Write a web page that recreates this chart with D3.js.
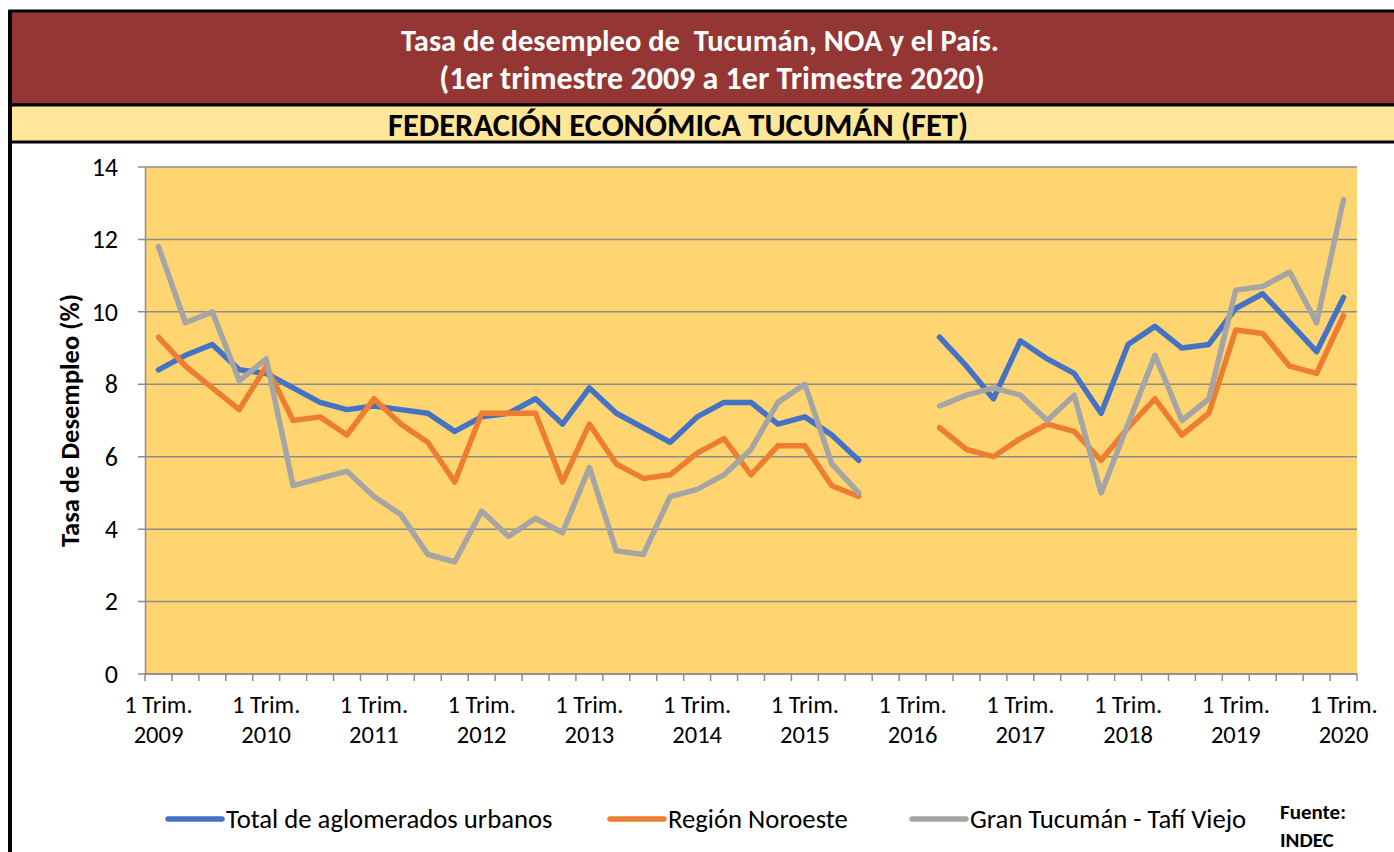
<!DOCTYPE html>
<html>
<head>
<meta charset="utf-8">
<script src="https://cdn.jsdelivr.net/npm/d3@7"></script>
<style>
  body { margin: 0; background: #fff; }
  svg { display: block; font-family: Calibri, Carlito, Lato, "Open Sans", sans-serif; }
</style>
</head>
<body>
<div id="chart"></div>
<script>
// trimestres 2009 T1 .. 2020 T1 (45)
const years = d3.range(2009, 2021);
const quarters = [];
years.forEach(y => [1, 2, 3, 4].forEach(q => { if (y < 2020 || q === 1) quarters.push(y + "-" + q); }));

// null = sin dato (4T 2015 y 1T 2016)
const total = [8.4, 8.8, 9.1, 8.4, 8.3, 7.9, 7.5, 7.3, 7.4, 7.3, 7.2, 6.7,
  7.1, 7.2, 7.6, 6.9, 7.9, 7.2, 6.8, 6.4, 7.1, 7.5, 7.5, 6.9,
  7.1, 6.6, 5.9, null, null, 9.3, 8.5, 7.6, 9.2, 8.7, 8.3, 7.2,
  9.1, 9.6, 9.0, 9.1, 10.1, 10.5, 9.7, 8.9, 10.4];
const noroeste = [9.3, 8.5, 7.9, 7.3, 8.5, 7.0, 7.1, 6.6, 7.6, 6.9, 6.4, 5.3,
  7.2, 7.2, 7.2, 5.3, 6.9, 5.8, 5.4, 5.5, 6.1, 6.5, 5.5, 6.3,
  6.3, 5.2, 4.9, null, null, 6.8, 6.2, 6.0, 6.5, 6.9, 6.7, 5.9,
  6.8, 7.6, 6.6, 7.2, 9.5, 9.4, 8.5, 8.3, 9.9];
const tucuman = [11.8, 9.7, 10.0, 8.1, 8.7, 5.2, 5.4, 5.6, 4.9, 4.4, 3.3, 3.1,
  4.5, 3.8, 4.3, 3.9, 5.7, 3.4, 3.3, 4.9, 5.1, 5.5, 6.2, 7.5,
  8.0, 5.8, 5.0, null, null, 7.4, 7.7, 7.9, 7.7, 7.0, 7.7, 5.0,
  6.9, 8.8, 7.0, 7.6, 10.6, 10.7, 11.1, 9.7, 13.1];

const seriesNames = ["Total de aglomerados urbanos", "Región Noroeste", "Gran Tucumán - Tafí Viejo"];
const seriesColors = ["#4472C4", "#ED7D31", "#A5A5A5"];
const yTicks = [0, 2, 4, 6, 8, 10, 12, 14];

const W = 1394, H = 852;
const m = { left: 145, right: 1357, top: 167, bottom: 674 };

const svg = d3.select("#chart").append("svg").attr("width", W).attr("height", H);

// encabezado
svg.append("rect").attr("x", 10).attr("y", 11).attr("width", W).attr("height", 94)
  .attr("fill", "#943634").attr("stroke", "#000").attr("stroke-width", 3);
svg.append("rect").attr("x", 10).attr("y", 105).attr("width", W).attr("height", 37)
  .attr("fill", "#FFE699").attr("stroke", "#000").attr("stroke-width", 3);
svg.append("line").attr("x1", 10).attr("x2", 10).attr("y1", 10).attr("y2", H)
  .attr("stroke", "#000").attr("stroke-width", 4);

svg.append("text").attr("x", 700).attr("y", 51).attr("text-anchor", "middle")
  .attr("fill", "#fff").attr("font-weight", "bold").attr("font-size", 30.5)
  .attr("xml:space", "preserve")
  .text("Tasa de desempleo de  Tucumán, NOA y el País.");
svg.append("text").attr("x", 712).attr("y", 89).attr("text-anchor", "middle")
  .attr("fill", "#fff").attr("font-weight", "bold").attr("font-size", 32)
  .text("(1er trimestre 2009 a 1er Trimestre 2020)");
svg.append("text").attr("x", 678).attr("y", 136).attr("text-anchor", "middle")
  .attr("fill", "#000").attr("font-weight", "bold").attr("font-size", 32.5)
  .text("FEDERACIÓN ECONÓMICA TUCUMÁN (FET)");

// escalas
const x = d3.scaleBand().domain(quarters).range([m.left, m.right]);
const y = d3.scaleLinear().domain([0, 14]).range([m.bottom, m.top]);

svg.append("rect").attr("x", m.left).attr("y", m.top)
  .attr("width", m.right - m.left).attr("height", m.bottom - m.top)
  .attr("fill", "#FFD572");

// grilla
svg.append("g").selectAll("line").data(yTicks).join("line")
  .attr("x1", m.left - 7).attr("x2", m.right)
  .attr("y1", d => y(d)).attr("y2", d => y(d))
  .attr("stroke", "#8c8c8c").attr("stroke-width", 1.5);

// eje Y
const yAxis = svg.append("g").attr("transform", `translate(${m.left},0)`)
  .call(d3.axisLeft(y).tickValues(yTicks).tickSize(0).tickPadding(27));
yAxis.select(".domain").attr("stroke", "#8c8c8c").attr("stroke-width", 1.5);
yAxis.selectAll("text").attr("font-size", 26).attr("fill", "#000")
  .attr("font-family", "Calibri, Carlito, Lato, sans-serif");

svg.append("text")
  .attr("transform", `translate(79,${(m.top + m.bottom) / 2}) rotate(-90)`)
  .attr("text-anchor", "middle").attr("font-weight", "bold").attr("font-size", 26.5)
  .text("Tasa de Desempleo (%)");

// eje X
const bounds = quarters.map(q => x(q)).concat([m.right]);
svg.append("line").attr("x1", m.left).attr("x2", m.right)
  .attr("y1", m.bottom).attr("y2", m.bottom)
  .attr("stroke", "#8c8c8c").attr("stroke-width", 1.5);
svg.append("g").selectAll("line").data(bounds).join("line")
  .attr("x1", d => d).attr("x2", d => d)
  .attr("y1", m.bottom).attr("y2", m.bottom + 7)
  .attr("stroke", "#8c8c8c").attr("stroke-width", 1.5);

const labelQ = quarters.filter(q => q.endsWith("-1"));
const xl = svg.append("g").selectAll("text").data(labelQ).join("text")
  .attr("text-anchor", "middle").attr("font-size", 24.5).attr("fill", "#000");
xl.append("tspan").attr("x", d => x(d) + x.bandwidth() / 2).attr("y", 713).text("1 Trim.");
xl.append("tspan").attr("x", d => x(d) + x.bandwidth() / 2).attr("y", 743).text(d => d.split("-")[0]);

// series
const allSeries = [total, noroeste, tucuman];
const line = d3.line()
  .defined(d => d != null)
  .x((d, i) => x(quarters[i]) + x.bandwidth() / 2)
  .y(d => y(d));

svg.append("g").selectAll("path").data(allSeries).join("path")
  .attr("d", line)
  .attr("fill", "none")
  .attr("stroke", (d, i) => seriesColors[i])
  .attr("stroke-width", 5.5)
  .attr("stroke-linejoin", "round")
  .attr("stroke-linecap", "round");

// leyenda
const legX = [168, 610, 912];
const leg = svg.append("g").selectAll("g").data(seriesNames).join("g")
  .attr("transform", (d, i) => `translate(${legX[i]},819)`);
leg.append("line").attr("x1", 0).attr("x2", 54)
  .attr("stroke", (d, i) => seriesColors[i]).attr("stroke-width", 5.5)
  .attr("stroke-linecap", "round");
leg.append("text").attr("x", 58).attr("y", 9).attr("font-size", 26.7)
  .attr("fill", "#000").text(d => d);

svg.append("text").attr("x", 1280).attr("y", 819).attr("font-size", 21)
  .attr("font-weight", "bold").text("Fuente:");
svg.append("text").attr("x", 1280).attr("y", 847).attr("font-size", 21)
  .attr("font-weight", "bold").text("INDEC");
</script>
</body>
</html>
